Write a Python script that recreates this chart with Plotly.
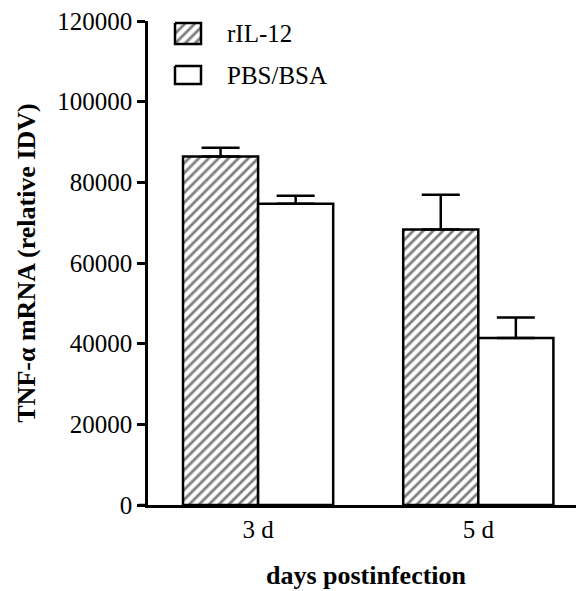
import plotly.graph_objects as go

categories = ["3 d", "5 d"]
series_names = ["rIL-12", "PBS/BSA"]
ril12_values = [86400, 68300]
ril12_err = [2200, 8600]
pbs_values = [74700, 41400]
pbs_err = [2000, 5100]
y_ticks = [0, 20000, 40000, 60000, 80000, 100000, 120000]

FONT = "Liberation Serif, Times New Roman, serif"
HATCH = dict(shape="/", fgcolor="black", bgcolor="white", size=7, solidity=0.4)

fig = go.Figure()

fig.add_trace(go.Bar(
    x=categories, y=ril12_values, name=series_names[0],
    marker=dict(color="white", line=dict(color="black", width=2.5), pattern=HATCH),
    error_y=dict(type="data", array=ril12_err, arrayminus=[0, 0], symmetric=False,
                 color="black", thickness=2.5, width=19),
    showlegend=False,
))
fig.add_trace(go.Bar(
    x=categories, y=pbs_values, name=series_names[1],
    marker=dict(color="white", line=dict(color="black", width=2.5)),
    error_y=dict(type="data", array=pbs_err, arrayminus=[0, 0], symmetric=False,
                 color="black", thickness=2.5, width=19),
    showlegend=False,
))

# Custom legend swatches on an overlay pixel-space axis (page pixel coordinates)
TOP = 21
sw = [(175, 201, 23, 44), (175, 201, 66, 84)]
for i, (x0, x1, y0, y1) in enumerate(sw):
    fig.add_trace(go.Scatter(
        x=[x0, x1, x1, x0, x0], y=[y0, y0, y1, y1, y0],
        mode="lines", fill="toself", fillcolor="white",
        fillpattern=HATCH if i == 0 else None,
        line=dict(color="black", width=2.5),
        xaxis="x2", yaxis="y2", showlegend=False, hoverinfo="skip",
    ))
    fig.add_annotation(x=225, y=(y0 + y1) / 2, xref="x2", yref="y2", text=series_names[i],
                       showarrow=False, xanchor="left", yanchor="middle",
                       font=dict(family=FONT, size=25, color="black"))

# page body has an 8px margin; compensate so the plot lands where the reference has it
fig.update_layout(
    width=576, height=583,
    margin=dict(l=140, r=0, t=TOP - 8, b=86, autoexpand=False),
    paper_bgcolor="white", plot_bgcolor="rgba(0,0,0,0)",
    barmode="group", bargap=0.318, bargroupgap=0,
    font=dict(family=FONT, size=25, color="black"),
    xaxis=dict(range=[-0.5, 1.48], showline=True, linecolor="black", linewidth=2.5,
               ticks="", showgrid=False, zeroline=False, automargin=False,
               tickfont=dict(family=FONT, size=25),
               title=dict(text="days postinfection", standoff=25,
                          font=dict(family=FONT, size=26, weight="bold"))),
    yaxis=dict(range=[0, 120000], tickvals=y_ticks, ticktext=[str(v) for v in y_ticks],
               showline=True, linecolor="black", linewidth=2.5,
               ticks="outside", ticklen=8, tickwidth=2.5, tickcolor="black",
               showgrid=False, zeroline=False, automargin=False,
               ticklabeloverflow="allow",
               tickfont=dict(family=FONT, size=25),
               title=dict(text="TNF-α mRNA (relative IDV)", standoff=15,
                          font=dict(family=FONT, size=26, weight="bold"))),
    xaxis2=dict(overlaying="x", range=[148, 584], visible=False, anchor="y2", fixedrange=True),
    yaxis2=dict(overlaying="y", range=[505, TOP], visible=False, anchor="x2", fixedrange=True),
)

fig.add_shape(type="line", xref="x domain", yref="y", x0=-0.022, x1=0, y0=0, y1=0,
              line=dict(color="black", width=2.5))

fig.write_html("out.html")
